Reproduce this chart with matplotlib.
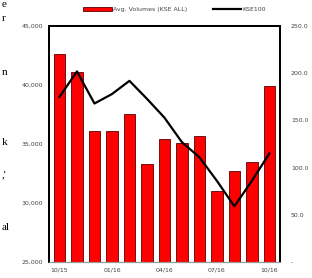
import matplotlib
matplotlib.use("Agg")
import matplotlib.pyplot as plt
import numpy as np

months = ["10/15","11/15","12/15","01/16","02/16","03/16","04/16","05/16","06/16","07/16","08/16","09/16","10/16"]
volumes = [42600, 41100, 36100, 36100, 37540, 33300, 35470, 35080, 35680, 31020, 32710, 33470, 39900]
kse100 = [175, 202, 168, 178, 192, 173, 153, 127, 111, 86, 59, 86, 115]
xtick_labels = ["10/15", "01/16", "04/16", "07/16", "10/16"]
left_ticks = [25000, 30000, 35000, 40000, 45000]
right_ticks = [0, 50, 100, 150, 200, 250]
right_tick_labels = ["-", "50.0", "100.0", "150.0", "200.0", "250.0"]

fig = plt.figure(figsize=(3.12, 2.78), dpi=100)
ax = fig.add_axes([0.157, 0.0576, 0.74, 0.8484])
x = np.arange(len(months))
ax.bar(x, volumes, width=0.67, color="#ff0000", edgecolor="#5a0000", linewidth=0.6,
       label="Avg. Volumes (KSE ALL)", bottom=0)
ax.set_ylim(25000, 45000)
ax.set_xlim(-0.6, len(months) - 0.4)
ax.set_yticks(left_ticks)
ax.set_yticklabels([f"{v:,}" for v in left_ticks], fontsize=4.5, color="#444444")
ax.set_xticks([0, 3, 6, 9, 12])
ax.set_xticklabels(xtick_labels, fontsize=4.5, color="#444444")
ax.tick_params(length=0, pad=4)

ax2 = ax.twinx()
ax2.plot(x, kse100, color="black", linewidth=1.6, label="KSE100")
ax2.set_ylim(0, 250)
ax2.set_yticks(right_ticks)
ax2.set_yticklabels(right_tick_labels, fontsize=4.5, color="#444444")
ax2.tick_params(length=0, pad=8)

for a in (ax, ax2):
    for s in ("left", "top", "right"):
        a.spines[s].set_linewidth(1.4)
        a.spines[s].set_color("black")
    a.spines["bottom"].set_color("#999999")
    a.spines["bottom"].set_linewidth(0.8)

h1, l1 = ax.get_legend_handles_labels()
h2, l2 = ax2.get_legend_handles_labels()
fig.legend(h1 + h2, l1 + l2, loc="center", bbox_to_anchor=(0.56, 0.965), ncol=2,
           fontsize=4.5, frameon=False, handlelength=4.5, handleheight=0.6,
           columnspacing=4, handletextpad=0.3, labelcolor="#444444")

frag = [("e", 0.985), ("r", 0.935), ("n", 0.74), ("k", 0.489), (",'", 0.37), ("al", 0.18)]
for t, yy in frag:
    fig.text(0.005, yy, t, fontsize=8, family="Liberation Serif", va="center", ha="left")

fig.savefig("out.png", dpi=100)
